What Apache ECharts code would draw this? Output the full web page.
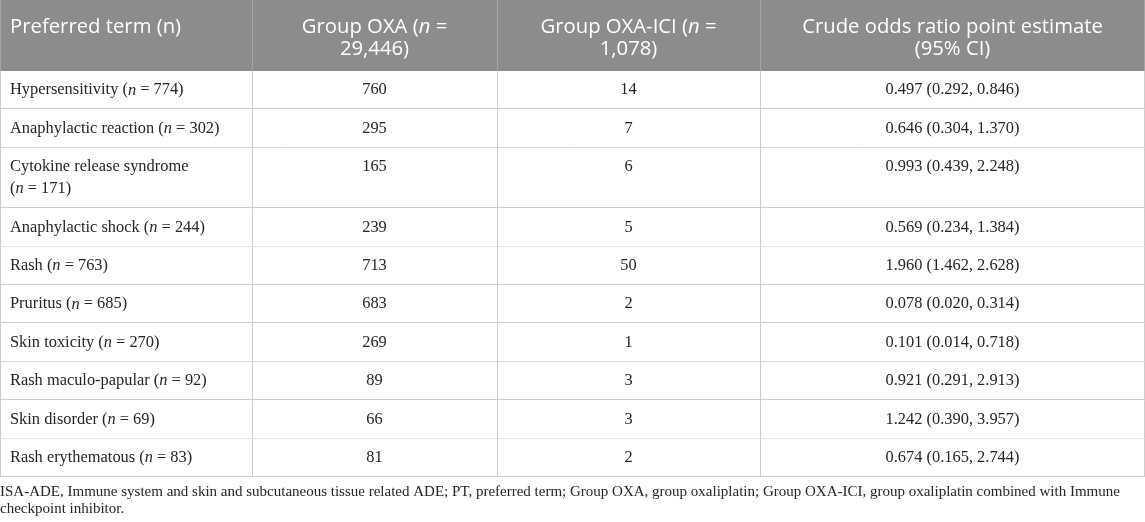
<!DOCTYPE html>
<html>
<head>
<meta charset="utf-8">
<script src="https://cdn.jsdelivr.net/npm/echarts@6/dist/echarts.min.js"></script>
<style>
  html, body { margin: 0; padding: 0; background: #fff; }
  #main { width: 1145px; height: 522px; }
</style>
</head>
<body>
<div id="main"></div>
<script>
// table content
var headers = [
    'Preferred term (n)',
    'Group OXA ({i|n} =\n29,446)',
    'Group OXA-ICI ({i|n} =\n1,078)',
    'Crude odds ratio point estimate\n(95% CI)'
];
var terms = ['Hypersensitivity', 'Anaphylactic reaction', 'Cytokine release syndrome', 'Anaphylactic shock',
    'Rash', 'Pruritus', 'Skin toxicity', 'Rash maculo-papular', 'Skin disorder', 'Rash erythematous'];
var termN = [774, 302, 171, 244, 763, 685, 270, 92, 69, 83];
var oxa = [760, 295, 165, 239, 713, 683, 269, 89, 66, 81];
var oxaIci = [14, 7, 6, 5, 50, 2, 1, 3, 3, 2];
var orEst = ['0.497', '0.646', '0.993', '0.569', '1.960', '0.078', '0.101', '0.921', '1.242', '0.674'];
var ciLow = ['0.292', '0.304', '0.439', '0.234', '1.462', '0.020', '0.014', '0.291', '0.390', '0.165'];
var ciHigh = ['0.846', '1.370', '2.248', '1.384', '2.628', '0.314', '0.718', '2.913', '3.957', '2.744'];
var footnote = 'ISA-ADE, Immune system and skin and subcutaneous tissue related ADE; PT, preferred term; Group OXA, group oxaliplatin; Group OXA-ICI, group oxaliplatin combined with Immune\ncheckpoint inhibitor.';

// layout
var W = 1145;
var colW = [252, 245, 263, 385];
var HEAD_H = 71, HEAD_PAD = 16;
var LINE_H = 22, ROW_PAD = 8.2, PAD_X = 10;
var HEAD_BG = '#8c8c8c', HEAD_LINE = '#a4a4a4', LINE_C = '#cdcdcd', TXT = '#262626';
var SERIF = '"Liberation Serif", "DejaVu Serif", serif';
var SANS = '"Open Sans", "Noto Sans", sans-serif';
var BODY_SIZE = 16.4, HEAD_SIZE = 20.3;

var ctx = document.createElement('canvas').getContext('2d');
ctx.font = BODY_SIZE + 'px ' + SERIF;

// first column label, wrapped before "(n = ..)" when it does not fit
function termText(i) {
    var nPart = '({i|n} = ' + termN[i] + ')';
    var full = terms[i] + ' (n = ' + termN[i] + ')';
    if (ctx.measureText(full).width > colW[0] - 2 * PAD_X) {
        return terms[i] + '\n' + nPart;
    }
    return terms[i] + ' ' + nPart;
}

var rowTexts = terms.map(function (t, i) {
    return [termText(i), String(oxa[i]), String(oxaIci[i]), orEst[i] + ' (' + ciLow[i] + ', ' + ciHigh[i] + ')'];
});

var rowH = [HEAD_H];
rowTexts.forEach(function (cells) {
    rowH.push(cells[0].split('\n').length * LINE_H + 2 * ROW_PAD);
});
var edges = [0];
rowH.forEach(function (h) { edges.push(edges[edges.length - 1] + h); });
var tableH = edges[edges.length - 1];
var colX = [0];
colW.forEach(function (w) { colX.push(colX[colX.length - 1] + w); });

function textStyle(str, x, y, align, head) {
    var size = head ? HEAD_SIZE : BODY_SIZE;
    var fam = head ? SANS : SERIF;
    var col = head ? '#fff' : TXT;
    return {
        text: str, x: x, y: y, align: align, verticalAlign: 'top',
        fontSize: size, fontFamily: fam, fill: col, lineHeight: LINE_H,
        rich: {
            i: { fontStyle: 'italic', fontSize: size, fontFamily: fam, fill: col, lineHeight: LINE_H }
        }
    };
}

function renderItem(params, api) {
    var r = api.value(0);
    var head = r === 0;
    var tl = api.coord([0, edges[r]]);
    var br = api.coord([W, edges[r + 1]]);
    var kids = [];
    kids.push({
        type: 'rect',
        shape: { x: tl[0], y: tl[1], width: br[0] - tl[0], height: br[1] - tl[1] },
        style: { fill: head ? HEAD_BG : '#fff' }
    });
    for (var c = 0; c <= colW.length; c++) {
        var x = api.coord([colX[c], 0])[0];
        x = c === colW.length ? Math.round(x) - 0.5 : Math.round(x) + 0.5;
        kids.push({
            type: 'line',
            shape: { x1: x, y1: tl[1], x2: x, y2: br[1] },
            style: { stroke: head ? HEAD_LINE : LINE_C, lineWidth: 1 }
        });
    }
    if (!head) {
        var yb = Math.round(br[1]) - 0.5;
        kids.push({
            type: 'line',
            shape: { x1: tl[0], y1: yb, x2: br[0], y2: yb },
            style: { stroke: LINE_C, lineWidth: 1 }
        });
    }
    var cells = head ? headers : rowTexts[r - 1];
    var ty = tl[1] + (head ? HEAD_PAD : ROW_PAD);
    for (var k = 0; k < cells.length; k++) {
        var x0 = api.coord([colX[k], 0])[0];
        var x1 = api.coord([colX[k + 1], 0])[0];
        var left = k === 0;
        kids.push({
            type: 'text',
            style: textStyle(cells[k], left ? x0 + PAD_X : (x0 + x1) / 2, ty, left ? 'left' : 'center', head)
        });
    }
    return { type: 'group', children: kids };
}

var chart = echarts.init(document.getElementById('main'));
chart.setOption({
    animation: false,
    title: {
        text: footnote,
        left: 0,
        top: tableH + 7,
        padding: 0,
        textStyle: { fontFamily: SERIF, fontSize: 15, fontWeight: 'normal', color: TXT, lineHeight: 16.5 }
    },
    grid: { left: 0, top: 0, width: W, height: tableH },
    xAxis: { type: 'value', min: 0, max: W, show: false },
    yAxis: { type: 'value', min: 0, max: tableH, inverse: true, show: false },
    series: [{
        type: 'custom',
        clip: false,
        renderItem: renderItem,
        encode: { x: 1, y: 1 },
        data: rowH.map(function (h, r) { return [r, 0]; })
    }]
});
</script>
</body>
</html>
